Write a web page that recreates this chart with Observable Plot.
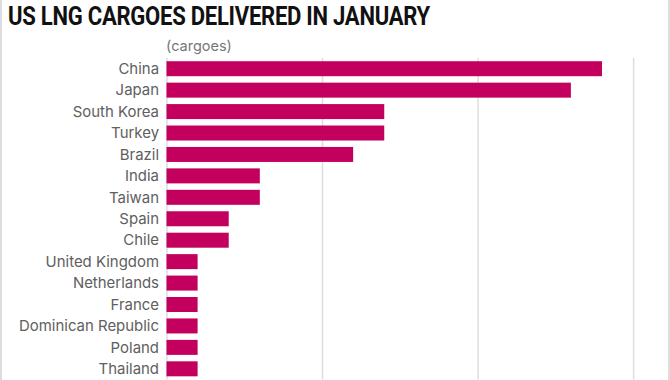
<!DOCTYPE html>
<html>
<head>
<meta charset="utf-8">
<script src="https://cdn.jsdelivr.net/npm/d3@7"></script>
<script src="https://cdn.jsdelivr.net/npm/@observablehq/plot@0.6"></script>
<style>
  html, body { margin: 0; padding: 0; background: #fff; }
  #wrap { position: relative; width: 670px; height: 380px; overflow: hidden; box-sizing: border-box;
          border-left: 2px solid #ddd; border-right: 2px solid #ddd; }
  #title { position: absolute; left: 6px; top: 2px; font-family: Roboto, sans-serif; font-weight: 700;
           font-size: 25px; color: #111; white-space: nowrap; transform-origin: 0 0; letter-spacing: -0.3px; }
  #sub { position: absolute; left: 164px; top: 37px; font-family: Inter, sans-serif; font-size: 14.5px; color: #777; }
  #chart { position: absolute; left: -2px; top: 56px; }
</style>
</head>
<body>
<div id="wrap">
  <div id="title">US LNG CARGOES DELIVERED IN JANUARY</div>
  <div id="sub">(cargoes)</div>
  <div id="chart"></div>
</div>
<script>
const countries = ["China","Japan","South Korea","Turkey","Brazil","India","Taiwan","Spain","Chile",
  "United Kingdom","Netherlands","France","Dominican Republic","Poland","Thailand"];
const cargoes = [14,13,7,7,6,3,3,2,2,1,1,1,1,1,1];
const gridTicks = [0,5,10,15];

const data = countries.map((c, i) => ({country: c, value: cargoes[i]}));

const chart = Plot.plot({
  width: 670,
  height: 324.5,
  marginLeft: 167,
  marginRight: 35,
  marginTop: 2,
  marginBottom: 0,
  style: {fontFamily: "Inter, sans-serif", fontSize: "15px", color: "#606060", background: "transparent"},
  x: {domain: [0, 15], axis: null},
  y: {domain: countries, paddingInner: 0.3, paddingOuter: 0.15, round: false, label: null},
  marks: [
    Plot.ruleX(gridTicks, {stroke: "#ddd", strokeWidth: 1.5, strokeOpacity: 1}),
    Plot.barX(data, {x: "value", y: "country", fill: "#c4005f"}),
    Plot.axisY({tickSize: 0, tickPadding: 8, label: null, fill: "#606060"})
  ]
});
document.getElementById("chart").appendChild(chart);

const t = document.getElementById("title");
const w = t.getBoundingClientRect().width;
t.style.transform = `scaleX(${422 / w})`;
</script>
</body>
</html>
